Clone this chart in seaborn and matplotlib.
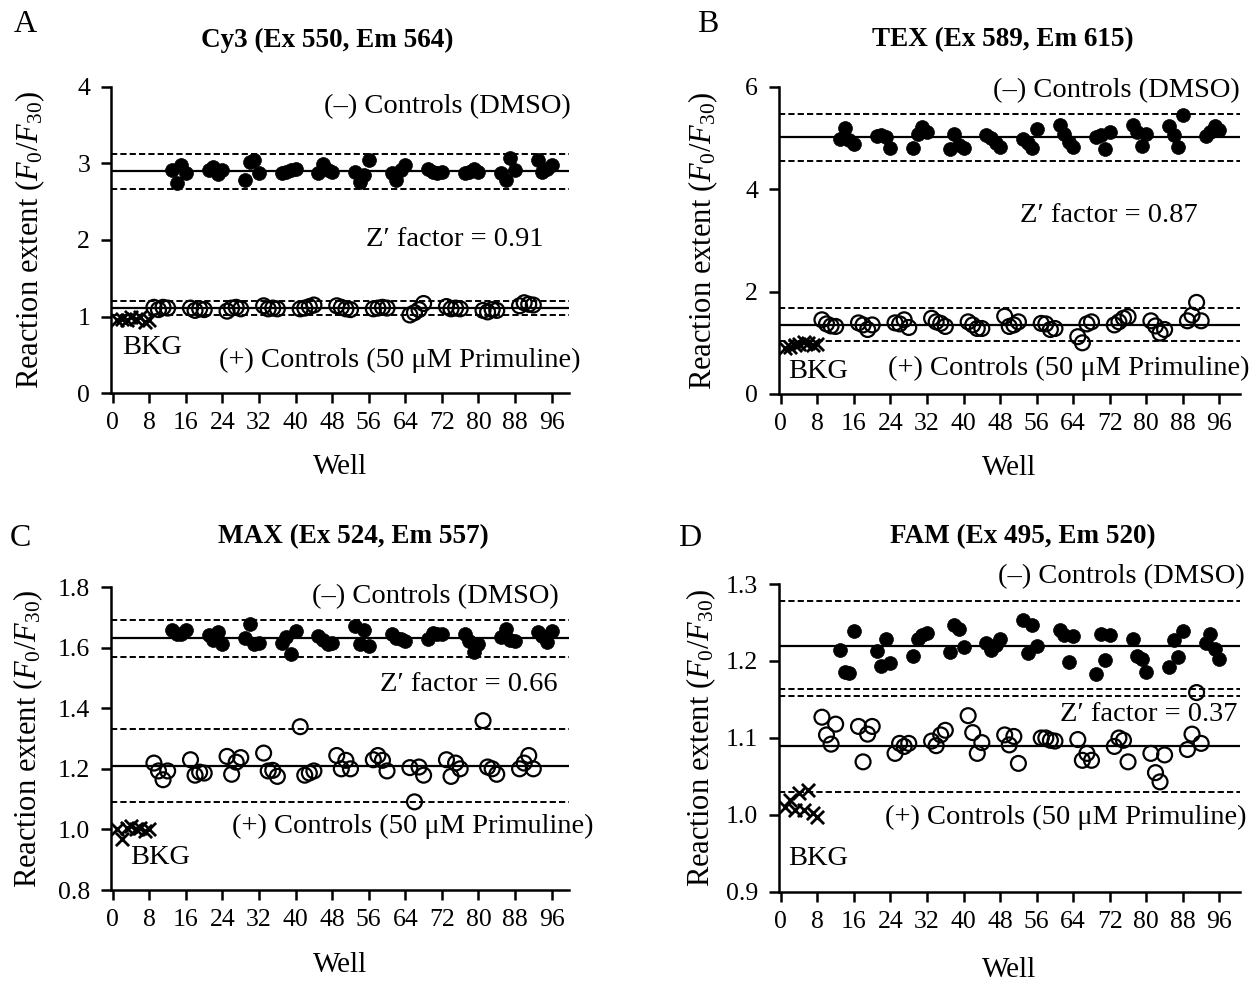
import numpy as np
import pandas as pd
import matplotlib
matplotlib.use("Agg")
import matplotlib.pyplot as plt
import seaborn as sns

# ---- data (reaction extent F0/F30 per well) ----
bkg_wells = list(range(1, 9))
pos_wells = [w for s in range(9, 97, 8) for w in range(s, s + 4)]
neg_wells = [w for s in range(13, 97, 8) for w in range(s, s + 4)]

cy3_bkg = [0.95, 0.97, 0.95, 0.99, 0.97, 1.00, 0.93, 0.95]
cy3_pos = [1.12, 1.09, 1.12, 1.11, 1.11, 1.08, 1.10, 1.09, 1.07, 1.11, 1.12, 1.10,
           1.14, 1.10, 1.11, 1.10, 1.10, 1.11, 1.13, 1.15, 1.14, 1.12, 1.10, 1.09,
           1.10, 1.11, 1.12, 1.11, 1.02, 1.05, 1.09, 1.17, 1.13, 1.10, 1.11, 1.10,
           1.08, 1.06, 1.09, 1.08, 1.14, 1.18, 1.16, 1.15]
cy3_neg = [2.91, 2.75, 2.98, 2.87, 2.92, 2.96, 2.86, 2.91, 2.78, 3.02, 3.04, 2.88,
           2.87, 2.89, 2.91, 2.93, 2.87, 2.99, 2.91, 2.89, 2.89, 2.76, 2.85, 3.04,
           2.87, 2.78, 2.91, 2.98, 2.93, 2.89, 2.88, 2.89, 2.88, 2.89, 2.93, 2.89,
           2.88, 2.79, 3.07, 2.92, 3.05, 2.89, 2.93, 2.98]
cy3_neg_lines = [2.90, 3.12, 2.67]
cy3_pos_lines = [1.11, 1.20, 1.02]

tex_bkg = [0.90, 0.92, 0.95, 0.98, 1.02, 1.00, 0.96, 0.98]
tex_pos = [1.45, 1.37, 1.33, 1.32, 1.39, 1.35, 1.26, 1.35, 1.39, 1.37, 1.45, 1.30,
           1.48, 1.41, 1.38, 1.32, 1.41, 1.35, 1.28, 1.28, 1.52, 1.32, 1.35, 1.41,
           1.38, 1.37, 1.26, 1.28, 1.12, 1.00, 1.37, 1.41, 1.35, 1.41, 1.48, 1.51,
           1.43, 1.33, 1.19, 1.26, 1.43, 1.54, 1.79, 1.43]
tex_neg = [4.98, 5.19, 4.96, 4.89, 5.04, 5.06, 5.03, 4.80, 4.80, 5.09, 5.21, 5.13,
           4.78, 5.09, 4.87, 4.80, 5.06, 5.00, 4.91, 4.83, 4.98, 4.90, 4.80, 5.17,
           5.26, 5.08, 4.93, 4.83, 5.02, 5.06, 4.78, 5.13, 5.26, 5.13, 4.85, 5.08,
           5.24, 5.06, 4.83, 5.45, 5.04, 5.13, 5.23, 5.15]
tex_neg_lines = [5.02, 5.47, 4.55]
tex_pos_lines = [1.355, 1.69, 1.04]

max_bkg = [1.00, 0.97, 1.005, 1.01, 1.00, 1.005, 0.995, 1.00]
max_pos = [1.219, 1.193, 1.164, 1.193, 1.230, 1.179, 1.189, 1.186, 1.241, 1.182, 1.222, 1.237,
           1.252, 1.193, 1.195, 1.175, 1.339, 1.179, 1.186, 1.193, 1.244, 1.200, 1.228, 1.200,
           1.230, 1.244, 1.228, 1.193, 1.204, 1.091, 1.206, 1.179, 1.230, 1.175, 1.219, 1.200,
           1.359, 1.206, 1.200, 1.182, 1.200, 1.219, 1.244, 1.200]
max_neg = [1.657, 1.644, 1.646, 1.657, 1.642, 1.624, 1.653, 1.611, 1.633, 1.677, 1.611, 1.616,
           1.616, 1.635, 1.580, 1.655, 1.638, 1.624, 1.611, 1.616, 1.671, 1.611, 1.657, 1.605,
           1.646, 1.633, 1.627, 1.622, 1.627, 1.649, 1.646, 1.644, 1.646, 1.622, 1.584, 1.611,
           1.635, 1.660, 1.624, 1.622, 1.653, 1.638, 1.620, 1.655]
max_neg_lines = [1.631, 1.690, 1.569]
max_pos_lines = [1.209, 1.330, 1.091]

fam_bkg = [1.011, 1.019, 1.006, 1.028, 1.006, 1.032, 1.002, 0.998]
fam_pos = [1.127, 1.104, 1.092, 1.118, 1.115, 1.069, 1.105, 1.115, 1.080, 1.093, 1.089, 1.093,
           1.096, 1.090, 1.104, 1.110, 1.129, 1.107, 1.080, 1.094, 1.104, 1.091, 1.102, 1.067,
           1.100, 1.100, 1.097, 1.096, 1.098, 1.071, 1.080, 1.071, 1.089, 1.100, 1.097, 1.069,
           1.080, 1.055, 1.043, 1.078, 1.085, 1.105, 1.159, 1.093]
fam_neg = [1.214, 1.186, 1.185, 1.239, 1.213, 1.194, 1.229, 1.197, 1.206, 1.229, 1.234, 1.236,
           1.212, 1.247, 1.242, 1.218, 1.224, 1.214, 1.221, 1.229, 1.253, 1.210, 1.247, 1.219,
           1.240, 1.234, 1.199, 1.232, 1.183, 1.235, 1.201, 1.234, 1.229, 1.206, 1.202, 1.186,
           1.192, 1.227, 1.205, 1.239, 1.223, 1.235, 1.216, 1.202]
fam_neg_lines = [1.219, 1.278, 1.163]
fam_pos_lines = [1.090, 1.155, 1.030]

x_ticks = list(range(0, 97, 8))

sns.set_style("ticks")
plt.rcParams['font.family'] = ['Liberation Serif', 'DejaVu Serif']
plt.rcParams['mathtext.fontset'] = 'custom'
plt.rcParams['mathtext.rm'] = 'Liberation Serif'
plt.rcParams['mathtext.it'] = 'Liberation Serif:italic'
plt.rcParams['axes.linewidth'] = 1.8
for chave in ['text.color', 'axes.labelcolor', 'xtick.color', 'ytick.color', 'axes.edgecolor']:
    plt.rcParams[chave] = 'black'


def desenharPainel(ax, bkg, pos, neg, negLines, posLines, yTicks, yLim, xLim, fmt):
    """Desenha um painel de controles"""
    df = pd.concat([
        pd.DataFrame({'well': bkg_wells, 'valor': bkg, 'grupo': 'bkg'}),
        pd.DataFrame({'well': pos_wells, 'valor': pos, 'grupo': 'pos'}),
        pd.DataFrame({'well': neg_wells, 'valor': neg, 'grupo': 'neg'}),
    ])

    for linhas in (negLines, posLines):
        ax.axhline(linhas[0], color='black', lw=1.6, zorder=1)
        for v in linhas[1:]:
            ax.axhline(v, color='black', lw=1.4, ls=(0, (3.2, 1.6)), zorder=1)

    sns.scatterplot(data=df[df.grupo == 'neg'], x='well', y='valor', ax=ax,
                    color='black', s=100, edgecolor='black', linewidth=0.5, zorder=3)
    sns.scatterplot(data=df[df.grupo == 'pos'], x='well', y='valor', ax=ax,
                    marker='o', s=115, facecolor='none', edgecolor='black',
                    linewidth=1.6, zorder=3)
    sns.scatterplot(data=df[df.grupo == 'bkg'], x='well', y='valor', ax=ax,
                    marker='x', s=90, color='black', linewidth=2.0, zorder=3)

    ax.set_xlim(*xLim)
    ax.set_ylim(*yLim)
    ax.set_xticks(x_ticks)
    ax.set_yticks(yTicks)
    ax.set_yticklabels([fmt.format(t) for t in yTicks])
    ax.tick_params(direction='out', length=7, width=1.8, labelsize=18.5)
    ax.tick_params(axis='x', pad=7)
    ax.tick_params(axis='y', pad=8)
    sns.despine(ax=ax)
    ax.set_xlabel('Well', fontsize=21)
    ax.set_ylabel(r'Reaction extent ($\mathit{F}_0/\mathit{F}_{30}$)', fontsize=22)


fig = plt.figure(figsize=(12.51, 9.83), dpi=100)

axA = fig.add_axes([0.0887, 0.6002, 0.3661, 0.3113])
axB = fig.add_axes([0.6227, 0.5992, 0.3685, 0.3123])
axC = fig.add_axes([0.0887, 0.0946, 0.3661, 0.3082])
axD = fig.add_axes([0.6227, 0.0926, 0.3685, 0.3133])

desenharPainel(axA, cy3_bkg, cy3_pos, cy3_neg, cy3_neg_lines, cy3_pos_lines,
               [0, 1, 2, 3, 4], (0, 4), (-0.4, 99.8), '{:.0f}')
desenharPainel(axB, tex_bkg, tex_pos, tex_neg, tex_neg_lines, tex_pos_lines,
               [0, 2, 4, 6], (0, 6), (-0.4, 100.5), '{:.0f}')
desenharPainel(axC, max_bkg, max_pos, max_neg, max_neg_lines, max_pos_lines,
               [0.8, 1.0, 1.2, 1.4, 1.6, 1.8], (0.8, 1.8), (-0.4, 99.8), '{:.1f}')
desenharPainel(axD, fam_bkg, fam_pos, fam_neg, fam_neg_lines, fam_pos_lines,
               [0.9, 1.0, 1.1, 1.2, 1.3], (0.9, 1.3), (-0.4, 100.5), '{:.1f}')

axA.yaxis.set_label_coords(-0.14, 0.5)
axB.yaxis.set_label_coords(-0.127, 0.5)
axC.yaxis.set_label_coords(-0.145, 0.5)
axD.yaxis.set_label_coords(-0.133, 0.5)
axA.xaxis.set_label_coords(0.5, -0.20)
axB.xaxis.set_label_coords(0.5, -0.20)
axC.xaxis.set_label_coords(0.5, -0.205)
axD.xaxis.set_label_coords(0.5, -0.21)

fs = 20.5
# textos dentro dos paineis
axA.text(100.2, 3.74, '(–) Controls (DMSO)', ha='right', va='center', fontsize=fs)
axA.text(94.2, 2.0, "Z′ factor = 0.91", ha='right', va='center', fontsize=fs)
axA.text(2.0, 0.60, 'BKG', ha='left', va='center', fontsize=fs)
axA.text(102.4, 0.43, '(+) Controls (50 μM Primuline)', ha='right', va='center',
         fontsize=fs, clip_on=False)

axB.text(100.4, 5.92, '(–) Controls (DMSO)', ha='right', va='center', fontsize=fs)
axB.text(91.2, 3.48, "Z′ factor = 0.87", ha='right', va='center', fontsize=fs)
axB.text(1.5, 0.43, 'BKG', ha='left', va='center', fontsize=fs)
axB.text(102.6, 0.49, '(+) Controls (50 μM Primuline)', ha='right', va='center',
         fontsize=fs, clip_on=False)

axC.text(97.5, 1.767, '(–) Controls (DMSO)', ha='right', va='center', fontsize=fs)
axC.text(97.3, 1.477, "Z′ factor = 0.66", ha='right', va='center', fontsize=fs)
axC.text(105.2, 1.011, '(+) Controls (50 μM Primuline)', ha='right', va='center',
         fontsize=fs, clip_on=False)
axC.text(3.7, 0.906, 'BKG', ha='left', va='center', fontsize=fs)

axD.text(101.5, 1.310, '(–) Controls (DMSO)', ha='right', va='center', fontsize=fs,
         clip_on=False)
axD.text(100.0, 1.131, "Z′ factor = 0.37", ha='right', va='center', fontsize=fs)
axD.text(102.0, 0.997, '(+) Controls (50 μM Primuline)', ha='right', va='center',
         fontsize=fs, clip_on=False)
axD.text(1.5, 0.944, 'BKG', ha='left', va='center', fontsize=fs)

# titulos e letras dos paineis
tfs = 19.5
fig.text(327 / 1251, 1 - 40 / 983, 'Cy3 (Ex 550, Em 564)', ha='center', va='center',
         fontsize=tfs, weight='bold')
fig.text(1003 / 1251, 1 - 40 / 983, 'TEX (Ex 589, Em 615)', ha='center', va='center',
         fontsize=tfs, weight='bold')
fig.text(353 / 1251, 1 - 537 / 983, 'MAX (Ex 524, Em 557)', ha='center', va='center',
         fontsize=tfs, weight='bold')
fig.text(1023 / 1251, 1 - 537 / 983, 'FAM (Ex 495, Em 520)', ha='center', va='center',
         fontsize=tfs, weight='bold')

for letra, px, py in [('A', 25, 24), ('B', 708, 24), ('C', 20, 538), ('D', 690, 538)]:
    fig.text(px / 1251, 1 - py / 983, letra, ha='center', va='center', fontsize=23)

fig.savefig('out.png', dpi=100, facecolor='white')
